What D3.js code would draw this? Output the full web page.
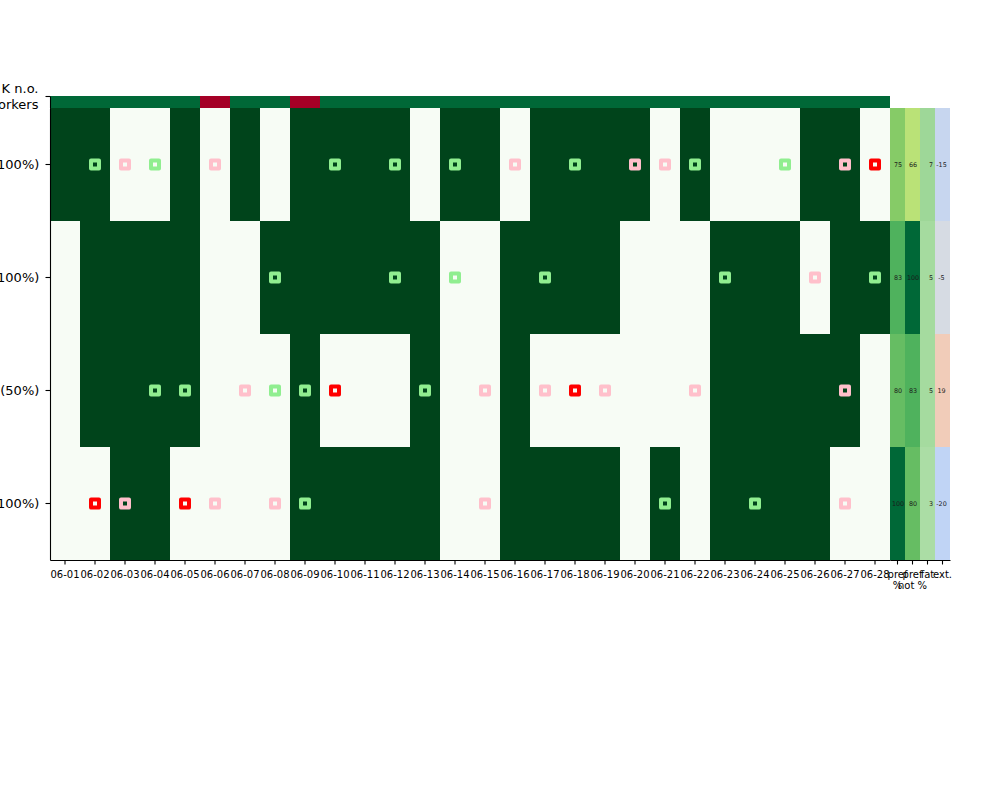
<!DOCTYPE html>
<html>
<head>
<meta charset="utf-8">
<script src="https://cdn.jsdelivr.net/npm/d3@7"></script>
<style>
  body { margin: 0; background: #fff; }
  svg { display: block; font-family: "DejaVu Sans", sans-serif; }
</style>
</head>
<body>
<svg id="chart" width="1000" height="800"></svg>
<script>
// ---------- data ----------
const dates = ["06-01","06-02","06-03","06-04","06-05","06-06","06-07","06-08","06-09","06-10",
               "06-11","06-12","06-13","06-14","06-15","06-16","06-17","06-18","06-19","06-20",
               "06-21","06-22","06-23","06-24","06-25","06-26","06-27","06-28"];
const rowLabels = ["Worker A (100%)", "Worker B (100%)", "Worker C (50%)", "Worker D (100%)"];
const topLabel = ["# K n.o.", "workers"];
// 1 = OK, 0 = not OK
const okWorkers = [1,1,1,1,1,0,1,1,0,1,1,1,1,1,1,1,1,1,1,1,1,1,1,1,1,1,1,1];
const presenceA = [1,1,0,0,1,0,1,0,1,1,1,1,0,1,1,0,1,1,1,1,0,1,0,0,0,1,1,0];
const presenceB = [0,1,1,1,1,0,0,1,1,1,1,1,1,0,0,1,1,1,1,0,0,0,1,1,1,0,1,1];
const presenceC = [0,1,1,1,1,0,0,0,1,0,0,0,1,0,0,1,0,0,0,0,0,0,1,1,1,1,1,0];
const presenceD = [0,0,1,1,0,0,0,0,1,1,1,1,1,0,0,1,1,1,1,0,1,0,1,1,1,1,0,0];
// marker codes per day: g = preferred, p = not preferred, r = conflict, . = none
const markersA = ".gpg.p...g.g.g.p.g.ppg..g.pr";
const markersB = ".......g...g.g..g.....g..p.g";
const markersC = "...gg.pggr..g.p.prp..p....p.";
const markersD = ".rp.rp.pg.....p.....g..g..p.";
const extraKeys = ["pref %", "pref not %", "fat", "ext."];
const extraTickLines = [["pref", "%"], ["pref", "not %"], ["fat"], ["ext."]];
const prefPct = [75, 83, 80, 100];
const prefNotPct = [66, 100, 83, 80];
const fatVals = [7, 5, 5, 3];
const extVals = [-15, -5, 19, -20];

const presence = [presenceA, presenceB, presenceC, presenceD];
const markers = [markersA, markersB, markersC, markersD].map(s => s.split(""));

// ---------- colour maps (matplotlib-like) ----------
function piecewise(stops) {
  return d3.scaleLinear().domain(stops.map((_, i) => i / (stops.length - 1)))
    .range(stops).interpolate(d3.interpolateRgb).clamp(true);
}
const greens = piecewise(["#f7fcf5","#e5f5e0","#c7e9c0","#a1d99b","#74c476","#41ab5d","#238b45","#006d2c","#00441b"]);
const rdylgn = piecewise(["#a50026","#d73027","#f46d43","#fdae61","#fee08b","#ffffbf","#d9ef8b","#a6d96a","#66bd63","#1a9850","#006837"]);
const coolwarm = piecewise(["#3b4cc0","#5572df","#7b9ff9","#9ebeff","#c0d4f5","#dddddd","#f2cbb7","#f7ac8e","#ee8468","#d65244","#b40426"]);

const heatColor = d3.scaleLinear().domain([0, 1]).range([0, 1]);
const pctColor = d3.scaleLinear().domain([0, 100]).range([0, 1]);
const fatColor = d3.scaleLinear().domain([-28, 63]).range([0, 1]);
const extColor = d3.scaleLinear().domain([-100, 100]).range([0, 1]);
const markerColor = { g: "#90ee90", p: "#ffc0cb", r: "#ff0000" };

const extraCols = [
  { key: extraKeys[0], vals: prefPct, fill: v => rdylgn(pctColor(v)), dx: 0.5 },
  { key: extraKeys[1], vals: prefNotPct, fill: v => rdylgn(pctColor(v)), dx: 0.5 },
  { key: extraKeys[2], vals: fatVals, fill: v => greens(fatColor(v)), dx: 3.5 },
  { key: extraKeys[3], vals: extVals, fill: v => coolwarm(extColor(v)), dx: -1 }
];

// ---------- scales ----------
const svg = d3.select("#chart");
svg.append("rect").attr("width", 1000).attr("height", 800).attr("fill", "#fff");

const x = d3.scaleBand().domain(dates).range([50, 890]);
const xe = d3.scaleBand().domain(extraKeys).range([890, 950]);
const y = d3.scaleBand().domain(rowLabels).range([108, 560]);
const yTop = d3.scaleLinear().domain([0, 1]).range([96, 108]);

// ---------- heatmap cells ----------
const cells = [];
rowLabels.forEach((r, ri) => dates.forEach((d, di) => cells.push({ r, d, v: presence[ri][di], m: markers[ri][di] })));

svg.append("g").attr("shape-rendering", "crispEdges")
  .selectAll("rect").data(cells).join("rect")
  .attr("x", c => x(c.d)).attr("y", c => y(c.r))
  .attr("width", x.bandwidth()).attr("height", y.bandwidth())
  .attr("fill", c => greens(heatColor(c.v)));

// top OK bar
svg.append("g").attr("shape-rendering", "crispEdges")
  .selectAll("rect").data(dates).join("rect")
  .attr("x", d => x(d)).attr("y", yTop(0))
  .attr("width", x.bandwidth()).attr("height", yTop(1) - yTop(0))
  .attr("fill", (d, i) => rdylgn(okWorkers[i]));

// extra columns
const extraCells = [];
extraCols.forEach(col => rowLabels.forEach((r, ri) => extraCells.push({ col, r, v: col.vals[ri] })));
svg.append("g").attr("shape-rendering", "crispEdges")
  .selectAll("rect").data(extraCells).join("rect")
  .attr("x", c => xe(c.col.key)).attr("y", c => y(c.r))
  .attr("width", xe.bandwidth()).attr("height", y.bandwidth())
  .attr("fill", c => c.col.fill(c.v));
svg.append("g")
  .selectAll("text").data(extraCells).join("text")
  .attr("x", c => xe(c.col.key) + xe.bandwidth() / 2 + c.col.dx)
  .attr("y", c => y(c.r) + y.bandwidth() / 2)
  .attr("dy", "0.35em")
  .attr("text-anchor", "middle")
  .attr("font-size", 6.4)
  .attr("fill", "#1a1a1a")
  .text(c => c.v);

// markers
const s = 8;
svg.append("g")
  .selectAll("rect").data(cells.filter(c => c.m !== ".")).join("rect")
  .attr("x", c => x(c.d) + x.bandwidth() / 2 - s / 2)
  .attr("y", c => y(c.r) + y.bandwidth() / 2 - s / 2)
  .attr("width", s).attr("height", s)
  .attr("fill", "none")
  .attr("stroke", c => markerColor[c.m])
  .attr("stroke-width", 4)
  .attr("stroke-linejoin", "round");

// ---------- axes ----------
function styleAxis(g, size) {
  g.attr("font-family", "DejaVu Sans, sans-serif").attr("font-size", size).attr("color", "#000");
  g.selectAll("path, line").attr("stroke-width", 1.1);
}

const gx = svg.append("g").attr("transform", "translate(0,560)")
  .call(d3.axisBottom(x).tickSize(4.5).tickPadding(6).tickSizeOuter(0));
styleAxis(gx, 10);

const gxe = svg.append("g").attr("transform", "translate(0,560)")
  .call(d3.axisBottom(xe).tickSize(4.5).tickPadding(6).tickSizeOuter(0));
styleAxis(gxe, 10);
gxe.selectAll(".tick text").each(function (d, i) {
  const t = d3.select(this).text(null);
  extraTickLines[i].forEach((line, li) => {
    t.append("tspan").attr("x", 0).attr("dy", li === 0 ? "0.71em" : "1.15em").text(line);
  });
});

const gy = svg.append("g").attr("transform", "translate(50,0)")
  .call(d3.axisLeft(y).tickSize(4.5).tickPadding(6.2).tickSizeOuter(0));
styleAxis(gy, 13);

const gt = svg.append("g").attr("transform", "translate(50,0)")
  .call(d3.axisLeft(yTop).tickValues([0]).tickFormat(() => "").tickSize(4.5).tickPadding(6.2).tickSizeOuter(0));
styleAxis(gt, 13);
gt.selectAll(".tick text").each(function () {
  const t = d3.select(this).attr("dy", null);
  topLabel.forEach((line, li) => {
    t.append("tspan").attr("x", -11.5).attr("dy", li === 0 ? "-0.25em" : "1.23em").text(line);
  });
});
</script>
</body>
</html>
